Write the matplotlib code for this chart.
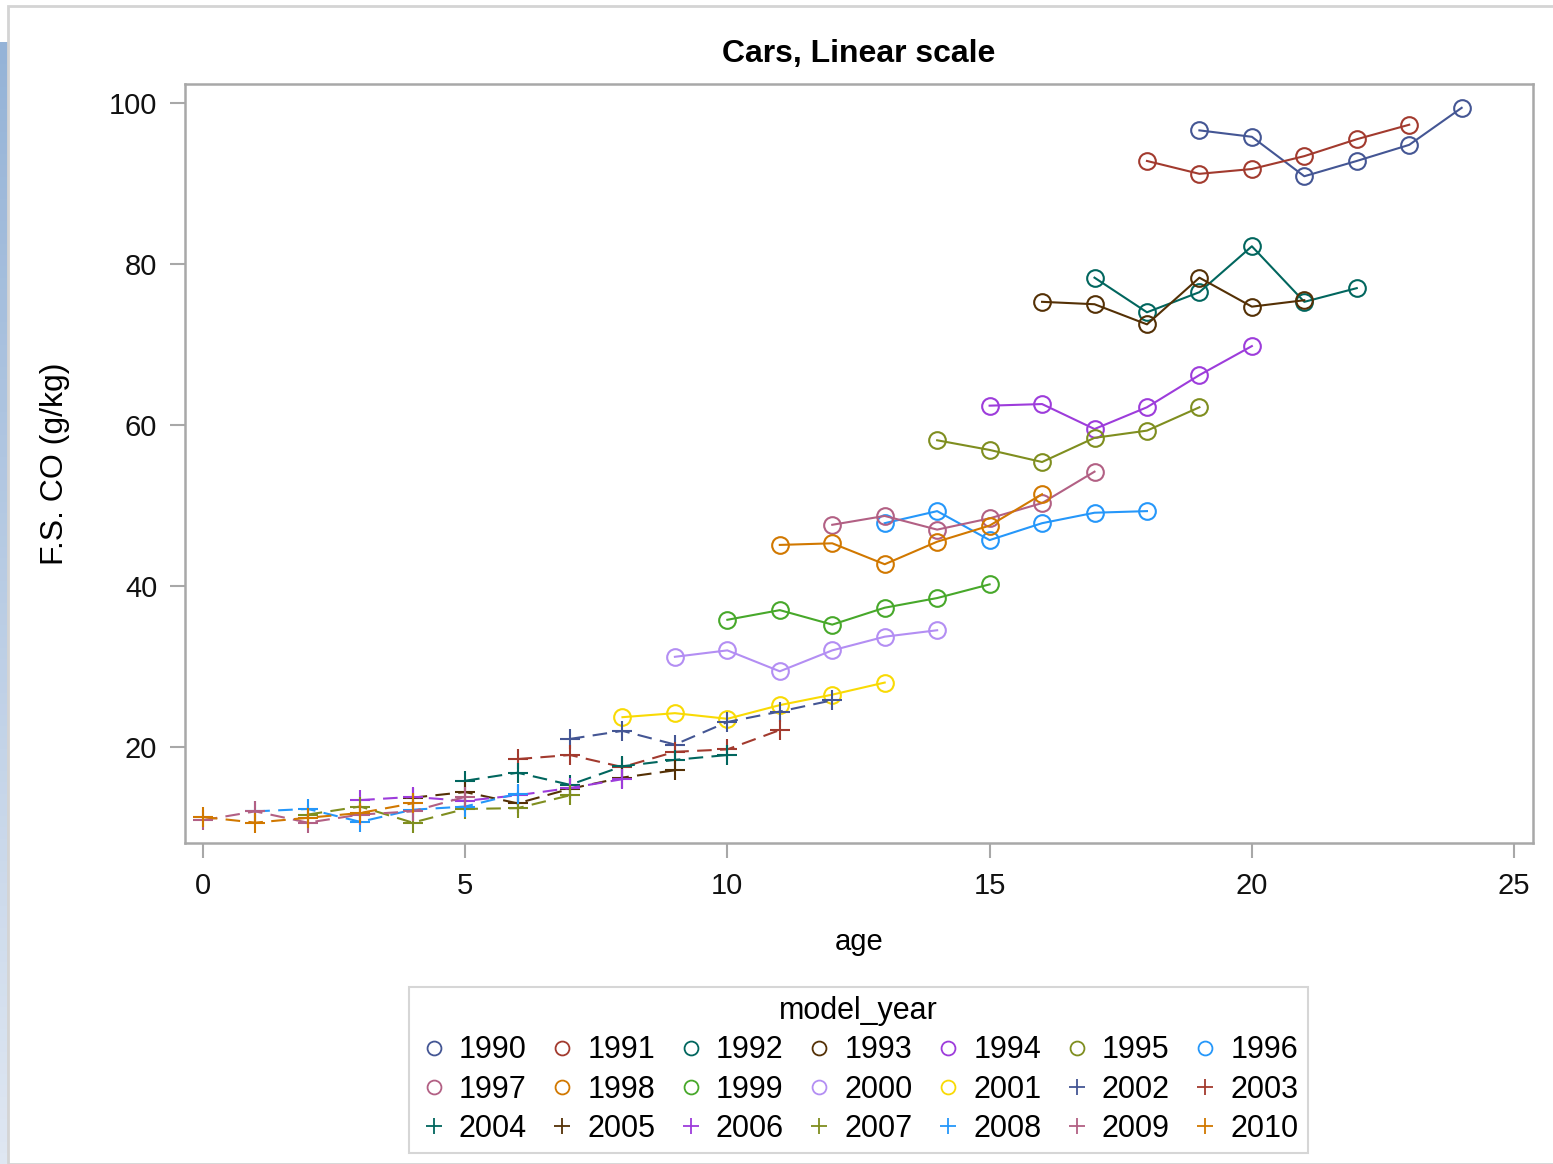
import numpy as np
import matplotlib
matplotlib.use('Agg')
import matplotlib.pyplot as plt
from matplotlib.lines import Line2D
from matplotlib.patches import Rectangle

plt.rcParams['font.family'] = ['Liberation Sans', 'DejaVu Sans']

# F.S. CO (g/kg) per model year
co_1990 = [96.6, 95.8, 90.9, 92.8, 94.8, 99.4]
co_1991 = [92.8, 91.2, 91.8, 93.4, 95.5, 97.3]
co_1992 = [78.3, 74.0, 76.5, 82.2, 75.3, 77.0]
co_1993 = [75.3, 75.0, 72.5, 78.3, 74.7, 75.5]
co_1994 = [62.4, 62.6, 59.5, 62.2, 66.2, 69.8]
co_1995 = [58.1, 56.9, 55.4, 58.4, 59.3, 62.2]
co_1996 = [47.8, 49.3, 45.7, 47.8, 49.1, 49.3]
co_1997 = [47.6, 48.7, 47.0, 48.4, 50.3, 54.2]
co_1998 = [45.1, 45.3, 42.7, 45.5, 47.5, 51.4]
co_1999 = [35.8, 37.0, 35.2, 37.3, 38.5, 40.2]
co_2000 = [31.2, 32.0, 29.4, 32.0, 33.7, 34.5]
co_2001 = [23.7, 24.2, 23.5, 25.2, 26.5, 28.0]
co_2002 = [21.0, 22.0, 20.3, 23.1, 24.4, 25.8]
co_2003 = [18.5, 19.0, 17.5, 19.4, 19.7, 22.1]
co_2004 = [15.8, 16.8, 15.3, 17.6, 18.4, 19.0]
co_2005 = [13.7, 14.4, 13.0, 14.8, 16.2, 17.1]
co_2006 = [13.4, 13.8, 13.3, 14.0, 14.9, 16.0]
co_2007 = [11.6, 12.6, 10.6, 12.3, 12.4, 14.0]
co_2008 = [12.0, 12.3, 10.7, 12.2, 12.6, 14.2]
co_2009 = [10.9, 12.0, 10.6, 11.6, 12.0, 13.8]
co_2010 = [11.3, 10.6, 11.2, 11.8, 13.0]

model_years = list(range(1990, 2011))
first_age = [19, 18, 17, 16, 15, 14, 13, 12, 11, 10, 9, 8, 7, 6, 5, 4, 3, 2, 1, 0, 0]
series_values = [co_1990, co_1991, co_1992, co_1993, co_1994, co_1995, co_1996,
                 co_1997, co_1998, co_1999, co_2000, co_2001, co_2002, co_2003,
                 co_2004, co_2005, co_2006, co_2007, co_2008, co_2009, co_2010]

# SAS HTMLBlue style colour cycle
palette = ['#445694', '#A23A2E', '#01665E', '#543005', '#9D3CDB', '#7F8E1F',
           '#2597FA', '#B26084', '#D17800', '#47A82A', '#B38EF3', '#F9DA04']

fig = plt.figure(figsize=(15.53, 11.64), dpi=100)

# screenshot frame + blue side strip
fig.add_artist(Rectangle((8 / 1553, 0), 1.0, 1 - 6 / 1164, transform=fig.transFigure,
                         fill=False, edgecolor='#d4d4d4', linewidth=2))
strip = fig.add_axes([0, 0, 8 / 1553, 1 - 42 / 1164])
strip.imshow(np.linspace(0, 1, 100).reshape(-1, 1), aspect='auto',
             cmap=matplotlib.colors.LinearSegmentedColormap.from_list('s', ['#95b3d7', '#dfe7f2']))
strip.axis('off')

ax = fig.add_axes([185 / 1553, 1 - 843 / 1164, (1533 - 185) / 1553, (843 - 84) / 1164])

handles = []
for i, (yr, start, vals) in enumerate(zip(model_years, first_age, series_values)):
    color = palette[i % 12]
    ages = np.arange(start, start + len(vals))
    if i < 12:
        ax.plot(ages, vals, color=color, lw=1.5, marker='o', ms=12,
                mfc='none', mec=color, mew=1.5)
        h = Line2D([], [], ls='none', marker='o', ms=10, mfc='none', mec=color, mew=1.3)
    else:
        ax.plot(ages, vals, color=color, lw=1.5, dashes=[7, 4], marker='+', ms=15,
                mew=1.5)
        h = Line2D([], [], ls='none', marker='+', ms=12, mec=color, mew=1.3)
    handles.append((h, str(yr)))

ax.set_xlim(-0.34, 25.36)
ax.set_ylim(8.07, 102.36)
ax.set_xticks([0, 5, 10, 15, 20, 25])
ax.set_yticks([20, 40, 60, 80, 100])
for s in ax.spines.values():
    s.set_color('#a8a8a8')
    s.set_linewidth(1.8)
ax.tick_params(direction='out', length=11, width=1.5, color='#a8a8a8',
               labelsize=21, labelcolor='#111111')
ax.tick_params(axis='x', pad=10)
ax.tick_params(axis='y', pad=9)

ax.set_title('Cars, Linear scale', fontsize=23, fontweight='bold', pad=16)
ax.set_xlabel('age', fontsize=21, labelpad=20)
ax.set_ylabel('F.S. CO (g/kg)', fontsize=23, labelpad=28)

# row-major order in a 3 x 7 legend
order = [r * 7 + c for c in range(7) for r in range(3)]
leg = fig.legend([handles[k][0] for k in order], [handles[k][1] for k in order],
                 ncol=7, title='model_year', loc='upper center',
                 bbox_to_anchor=(858.5 / 1553, 1 - 987 / 1164), bbox_transform=fig.transFigure,
                 fontsize=22, title_fontsize=22, frameon=True, fancybox=False,
                 edgecolor='#cccccc', handlelength=1.0, handletextpad=0.32,
                 columnspacing=0.66, labelspacing=0.3, borderpad=0.3, borderaxespad=0)
leg.get_frame().set_linewidth(1.5)

fig.savefig('out.png', dpi=100)
